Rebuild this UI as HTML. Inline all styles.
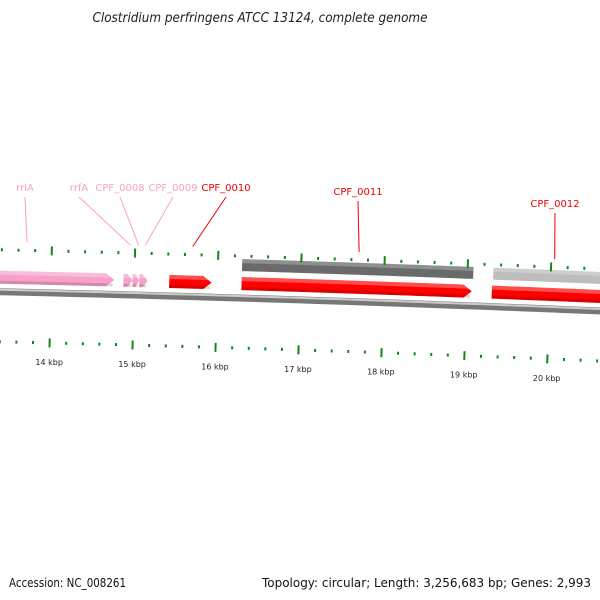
<!DOCTYPE html>
<html><head><meta charset="utf-8"><style>
html,body{margin:0;padding:0;background:#fff;}
svg{display:block;font-family:"DejaVu Sans","Liberation Sans",sans-serif;}
</style></head><body>
<svg id="map" width="600" height="600" viewBox="0 0 600 600" xmlns="http://www.w3.org/2000/svg">
<text x="260" y="22" text-anchor="middle" font-size="13" font-style="italic" fill="#222" textLength="335" lengthAdjust="spacingAndGlyphs">Clostridium perfringens ATCC 13124, complete genome</text>
<text x="9" y="587" font-size="12" fill="#111" textLength="117" lengthAdjust="spacingAndGlyphs">Accession: NC_008261</text>
<text x="591" y="587" text-anchor="end" font-size="12" fill="#111" textLength="329" lengthAdjust="spacingAndGlyphs">Topology: circular; Length: 3,256,683 bp; Genes: 2,993</text>
<g id="layer"></g>
</svg>
<script>
// data (kbp)
const geneNames = ["rrlA","rrfA","CPF_0008","CPF_0009","CPF_0010","CPF_0011","CPF_0012"];
const geneStarts = [11.5, 14.87, 14.98, 15.06, 15.42, 16.29, 19.30];
const geneEnds = [14.76, 14.98, 15.06, 15.16, 15.93, 19.06, 21.5];
const geneAnchors = [13.7, 14.94, 15.04, 15.12, 15.69, 17.69, 20.04];
const geneColors = ["#f7a1c9","#f7a1c9","#f7a1c9","#f7a1c9","#ff0000","#ff0000","#ff0000"];
const geneLabelX = [25, 79, 120, 173, 226, 358, 555];
const geneLabelY = [191, 191, 191, 191, 191, 195, 207];
const cogStarts = [16.29, 19.31];
const cogEnds = [19.07, 21.5];
const cogColors = ["#6a6a6a","#bdbdbd"];
const tickLabels = [14,15,16,17,18,19,20];

const NS="http://www.w3.org/2000/svg";
const layer=document.getElementById('layer');
const R0=31000, XC=-694, YC=334+R0, KC=5.04, PX=83;
function pos(kbp, off){const a=(kbp-KC)*PX/R0;const r=R0+off;return [XC+r*Math.sin(a), YC-r*Math.cos(a)];}
function mk(tag,attrs){const e=document.createElementNS(NS,tag);for(const k in attrs)e.setAttribute(k,attrs[k]);layer.appendChild(e);return e;}
function band(s,e,o1,o2,arrow){
  const pts=[];const n=40;const head=arrow?Math.min(0.1,(e-s)*0.6):0;const body=e-head;
  for(let i=0;i<=n;i++){pts.push(pos(s+(body-s)*i/n,o2));}
  if(arrow)pts.push(pos(e,(o1+o2)/2));
  for(let i=n;i>=0;i--){pts.push(pos(s+(body-s)*i/n,o1));}
  return pts.map(p=>p[0].toFixed(2)+','+p[1].toFixed(2)).join(' ');
}
function arcPath(s,e,o){let d='';for(let i=0;i<=60;i++){const p=pos(s+(e-s)*i/60,o);d+=(i?'L':'M')+p[0].toFixed(2)+' '+p[1].toFixed(2);}return d;}
let bb=mk('path',{d:arcPath(10,22,50),stroke:'#777',"stroke-width":7,fill:'none'});


let bb2=mk('path',{d:arcPath(10,22,52),stroke:'#ccc',"stroke-width":2,fill:'none'});


for(let i=0;i<cogStarts.length;i++){
  const p=mk('polygon',{points:band(cogStarts[i],cogEnds[i],77,89,false),fill:cogColors[i]});
  
  
  const h=mk('polygon',{points:band(cogStarts[i],cogEnds[i],85,89,false),fill:'#fff',"fill-opacity":0.25});
  
  
}
for(let i=0;i<geneNames.length;i++){
  const p=mk('polygon',{points:band(geneStarts[i],geneEnds[i],58,71,true),fill:geneColors[i]});
  
  
  const h=mk('polygon',{points:band(geneStarts[i],geneEnds[i]-0.02,67,71,false),fill:'#fff',"fill-opacity":0.3});
  
  
  const d=mk('polygon',{points:band(geneStarts[i],geneEnds[i]-0.02,58,61,false),fill:'#000',"fill-opacity":0.15});
  
  
  const a=pos(geneAnchors[i],100);
  const col=geneColors[i]==="#ff0000"?"#ee0000":"#f7a1c9";
  const ln=mk('line',{x1:a[0],y1:a[1],x2:geneLabelX[i],y2:geneLabelY[i]+6,stroke:col,"stroke-width":1});
  
  
  const t=mk('text',{x:geneLabelX[i],y:geneLabelY[i],"text-anchor":"middle","font-size":10,fill:col});
  t.textContent=geneNames[i];
  
  
}
for(let k=12;k<=21.01;k+=0.2){
  const kk=Math.round(k*5)/5;const major=Math.abs(kk-Math.round(kk))<1e-6;
  for(const base of [0,92]){
    const h=major?4.5:1.5;
    const a=pos(kk,base-h),b=pos(kk,base+h);
    const l=mk('line',{x1:a[0],y1:a[1],x2:b[0],y2:b[1],stroke:'#118811',"stroke-width":2});
    
    
  }
}
for(const v of tickLabels){
  const p=pos(v,-18);
  const t=mk('text',{x:p[0],y:p[1]+4,"text-anchor":"middle","font-size":8,fill:'#222'});
  t.textContent=v+' kbp';
  
  
}
</script>
</body></html>
